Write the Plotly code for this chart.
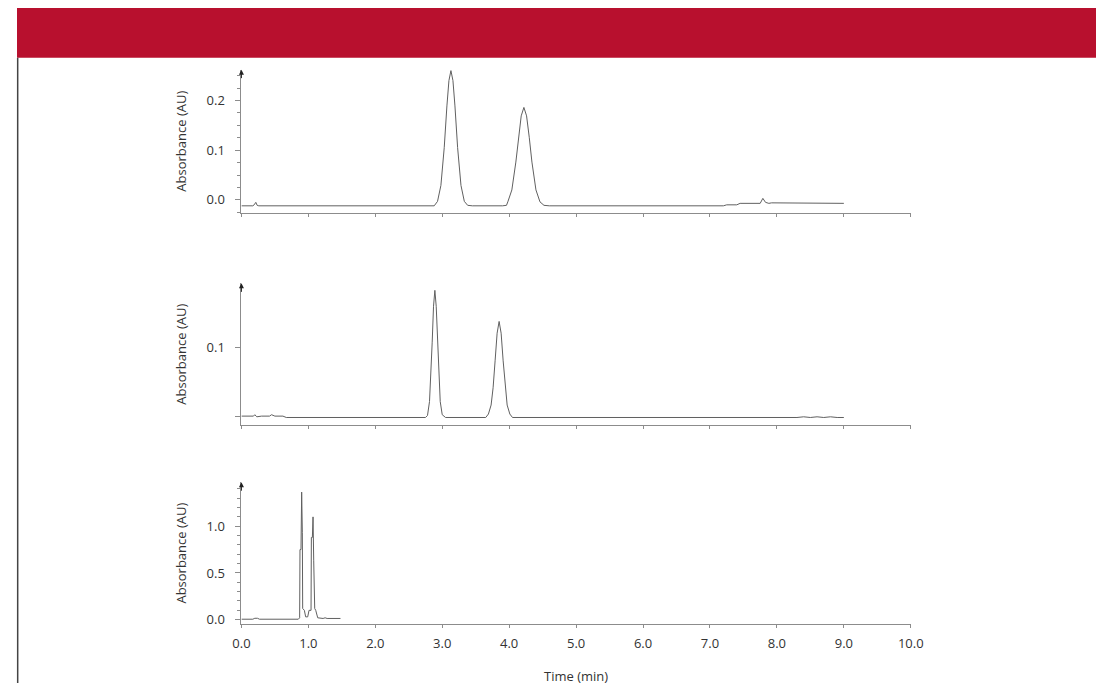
import plotly.graph_objects as go

# ---------------- data ----------------
# Panel 1 (top)
t1 = [0.0, 0.17, 0.19, 0.215, 0.235, 0.26, 2.88, 2.93, 2.98, 3.03, 3.07, 3.10, 3.13, 3.16, 3.19,
      3.23, 3.28, 3.33, 3.38, 3.45, 3.90, 3.96, 3.98, 4.04, 4.10, 4.14, 4.18, 4.22, 4.26, 4.30,
      4.34, 4.40, 4.46, 4.52, 4.60, 7.20, 7.25, 7.40, 7.45, 7.75, 7.79, 7.83, 7.88, 7.92, 9.0]
a1 = [-0.012, -0.012, -0.010, -0.005, -0.011, -0.012, -0.012, -0.003, 0.029, 0.105, 0.189, 0.240,
      0.260, 0.240, 0.189, 0.105, 0.029, -0.003, -0.011, -0.012, -0.012, -0.011, -0.004, 0.020,
      0.076, 0.126, 0.169, 0.186, 0.169, 0.126, 0.076, 0.020, -0.004, -0.011, -0.012, -0.012,
      -0.010, -0.010, -0.007, -0.007, 0.003, -0.005, -0.007, -0.006, -0.007]

# Panel 2 (middle)
t2 = [0.0, 0.18, 0.20, 0.23, 0.30, 0.42, 0.45, 0.50, 0.62, 0.67, 2.75, 2.78, 2.81, 2.83, 2.85,
      2.87, 2.89, 2.91, 2.93, 2.95, 2.97, 3.00, 3.05, 3.65, 3.69, 3.73, 3.76, 3.79, 3.82, 3.85,
      3.88, 3.91, 3.94, 3.97, 4.01, 4.05, 8.30, 8.40, 8.50, 8.60, 8.70, 8.80, 8.90, 9.0]
a2 = [0.0, 0.0, 0.002, -0.001, 0.0, 0.0, 0.002, 0.0, 0.0, -0.002, -0.002, 0.001, 0.021, 0.055,
      0.107, 0.159, 0.182, 0.159, 0.107, 0.055, 0.021, 0.002, -0.002, -0.002, 0.003, 0.016, 0.041,
      0.080, 0.120, 0.137, 0.120, 0.080, 0.041, 0.016, 0.003, -0.002, -0.002, -0.001, -0.002,
      -0.001, -0.002, -0.001, -0.002, -0.002]

# Panel 3 (bottom)
t3 = [0.0, 0.17, 0.20, 0.24, 0.27, 0.85, 0.87, 0.875, 0.89, 0.895, 0.90, 0.91, 0.915, 0.94, 0.96,
      0.99, 1.01, 1.04, 1.045, 1.06, 1.07, 1.08, 1.095, 1.11, 1.14, 1.22, 1.25, 1.28, 1.48]
a3 = [0.005, 0.005, 0.015, 0.015, 0.005, 0.005, 0.02, 0.75, 0.75, 0.93, 1.365, 0.93, 0.12, 0.10,
      0.03, 0.03, 0.10, 0.10, 0.88, 0.88, 1.10, 0.63, 0.12, 0.10, 0.02, 0.013, 0.02, 0.013, 0.013]

x_ticks = [0, 1, 2, 3, 4, 5, 6, 7, 8, 9, 10]
x_ticktext = ["0.0", "1.0", "2.0", "3.0", "4.0", "5.0", "6.0", "7.0", "8.0", "9.0", "10.0"]
y1_ticks = [0.0, 0.1, 0.2]
y1_text = ["0.0", "0.1", "0.2"]
y2_ticks = [0.0, 0.1]
y2_text = ["", "0.1"]
y3_ticks = [0.0, 0.5, 1.0]
y3_text = ["0.0", "0.5", "1.0"]

# ---------------- figure ----------------
# page body keeps its default 8px margin, so the figure sits at (8, 8)
OFF = 8
W, H = 1117 - 2 * OFF, 695 - 2 * OFF
FONT = "Open Sans"
FS = 13
LINE_C = "#8c8c8c"
TRACE_C = "#606060"
TXT_C = "#333333"


def px(x):
    return (x - OFF) / W


def py(y):
    return 1 - (y - OFF) / H


fig = go.Figure()
for i, (t, a) in enumerate([(t1, a1), (t2, a2), (t3, a3)], start=1):
    sfx = "" if i == 1 else str(i)
    fig.add_trace(go.Scatter(x=t, y=a, mode="lines", xaxis="x" + sfx, yaxis="y" + sfx,
                             line=dict(color=TRACE_C, width=1), showlegend=False,
                             hoverinfo="skip"))

xdom = [px(237), px(920)]


def ydom(top_px, bot_px):
    return [py(bot_px), py(top_px)]


def xax(anchor, labels):
    return dict(domain=xdom, range=[0, 10], anchor=anchor, showline=True, linecolor=LINE_C,
                linewidth=1, showgrid=False, zeroline=False, ticks="outside", ticklen=3,
                tickcolor=LINE_C, tickvals=x_ticks, ticktext=x_ticktext,
                showticklabels=labels, tickfont=dict(family=FONT, size=FS, color=TXT_C),
                ticklabelstandoff=4)


def yax(anchor, dom, rng, tv, tt, minor_dt=None):
    d = dict(domain=dom, range=rng, anchor=anchor, showline=True, linecolor=LINE_C, linewidth=1,
             showgrid=False, zeroline=False, ticks="outside", ticklen=5, tickcolor=LINE_C,
             tickvals=tv, ticktext=tt, tickfont=dict(family=FONT, size=FS, color=TXT_C),
             ticklabelstandoff=8,
             title=dict(text="Absorbance (AU)", font=dict(family=FONT, size=FS, color=TXT_C),
                        standoff=16))
    if minor_dt:
        d["minor"] = dict(dtick=minor_dt, tick0=0, ticks="outside", ticklen=3, tickcolor=LINE_C)
    return d


fig.update_layout(
    width=W, height=H, autosize=False,
    margin=dict(l=0, r=0, t=0, b=0),
    paper_bgcolor="white", plot_bgcolor="white",
    xaxis=xax("y", False),
    xaxis2=xax("y2", False),
    xaxis3=dict(xax("y3", True),
                title=dict(text="Time (min)", font=dict(family=FONT, size=FS, color=TXT_C),
                           standoff=21)),
    yaxis=yax("x", ydom(70, 214), [-0.026, 0.262], y1_ticks, y1_text, 0.025),
    yaxis2=yax("x2", ydom(285, 427.5), [-0.0129, 0.1921], y2_ticks, y2_text),
    yaxis3=yax("x3", ydom(485, 627.7), [-0.0468, 1.4713], y3_ticks, y3_text, 0.1),
)

# red banner and left frame line
fig.add_shape(type="rect", xref="paper", yref="paper", x0=0, x1=1.0,
              y0=py(58), y1=1.0, fillcolor="#B8102E", line=dict(width=0), layer="below")
fig.add_shape(type="line", xref="paper", yref="paper", x0=0.7 / W, x1=0.7 / W,
              y0=0, y1=py(58), line=dict(color="#444444", width=1.5))

# arrowheads on top of y axes
for sfx in ["", "2", "3"]:
    fig.add_annotation(xref="x" + sfx, yref="y" + sfx + " domain", x=0, y=1.0, ax=0, ay=10,
                       text="", showarrow=True, arrowhead=2, arrowsize=1, arrowwidth=1,
                       arrowcolor="#222222")

fig.write_html("out.html")
